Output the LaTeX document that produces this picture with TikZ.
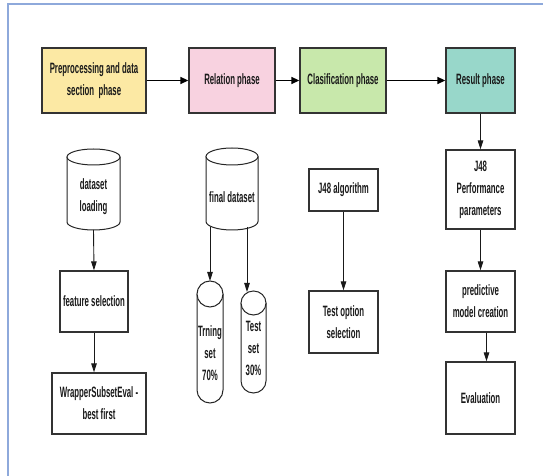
\documentclass[tikz,border=0pt]{standalone}
\usepackage{fontspec}
\newfontfamily\labfont{Liberation Sans}[FakeStretch=0.52]
\usetikzlibrary{arrows.meta}
\definecolor{frameblue}{HTML}{8EA9DB}
\definecolor{cyellow}{HTML}{FCE9A4}
\definecolor{cpink}{HTML}{F8D2E0}
\definecolor{cgreen}{HTML}{C8E8AB}
\definecolor{cteal}{HTML}{98D7CA}
\newcommand\drawcyl[6]{%
  \draw[cylline] ({#2-#5},{#3-#6}) -- ({#2-#5},{#4+#6})
    arc[start angle=180,end angle=360,x radius=#5,y radius=#6] -- ({#2+#5},{#3-#6});
  \draw[cylline] (#2,{#3-#6}) ellipse[x radius=#5, y radius=#6];
}
\begin{document}
\begin{tikzpicture}[x=1pt,y=1pt,
  lab/.style={font={\labfont\bfseries\fontsize{15}{22}\selectfont}, align=center, text=black!90},
  box/.style={lab, draw=black!80, line width=1.3pt, inner sep=0pt},
  cylline/.style={draw=black!85, line width=1pt, fill=white},
  arr/.style={-{Triangle[length=9pt,width=5.5pt]}, line width=0.9pt, black!90},
  harr/.style={-{Triangle[length=8pt,width=7pt]}, line width=1.5pt, black}]
\useasboundingbox (0,0) rectangle (543,476);
\fill[white] (0,0) rectangle (543,476);
% frame (top and left edges visible)
\draw[frameblue, line width=2pt] (8,-5) -- (8,472) -- (544,472);
% top row phases
\node[box, fill=cyellow, minimum width=104pt, minimum height=65pt] (pre) at (94,395.5) {Preprocessing and data\\section~~phase};
\node[box, fill=cpink, minimum width=86pt, minimum height=65pt] (rel) at (232,395.5) {Relation phase};
\node[box, fill=cgreen, minimum width=86pt, minimum height=65pt] (cls) at (343,395.5) {Clasification phase};
\node[box, fill=cteal, minimum width=69pt, minimum height=65pt] (res) at (480.5,395.5) {Result phase};
\draw[harr] (pre) -- (rel);
\draw[harr] (rel) -- (cls);
\draw[harr] (cls) -- (res);
% column 1
\drawcyl{dl}{93.5}{327}{246}{26.5}{8}
\node[lab] (dl) at (93.5,279) {dataset\\loading};
\coordinate (dlb) at (93.5,246);
\node[box, minimum width=68pt, minimum height=61pt] (fs) at (94,174.5) {feature selection};
\node[box, minimum width=94pt, minimum height=61pt] (ws) at (99,72.5) {WrapperSubsetEval -\\best first};
\draw[arr] (dlb) -- (fs.north);
\draw[arr] (fs.south) -- (fs.south |- ws.north);
% column 2
\drawcyl{fd}{232}{328}{246}{26}{8.5}
\node[lab] (fd) at (232,279) {final dataset};
\coordinate (fdb1) at (210,249);
\coordinate (fdb2) at (247,249);
\drawcyl{tr}{210}{195}{73}{13}{13}
\node[lab] (tr) at (210,123) {Trning\\set\\70\%};
\coordinate (trt) at (210,195);
\drawcyl{ts}{253.5}{185}{83}{12.5}{12}
\node[lab] (ts) at (253.5,128) {Test\\set\\30\%};
\coordinate (tst) at (247,184);
\draw[arr] (fdb1) -- (trt);
\draw[arr] (fdb2) -- (tst);
% column 3
\node[box, minimum width=69pt, minimum height=42pt] (j48) at (343.5,286) {J48 algorithm};
\node[box, minimum width=69pt, minimum height=62pt] (to) at (343.5,154) {Test option\\selection};
\draw[arr] (j48) -- (to);
% column 4
\node[box, minimum width=69pt, minimum height=79pt] (perf) at (480.5,286.5) {J48\\Performance\\parameters};
\node[box, minimum width=69pt, minimum height=61pt] (pred) at (480.5,174.5) {predictive\\model creation};
\node[box, minimum width=69pt, minimum height=72pt] (ev) at (480.5,78) {Evaluation};
\draw[arr] (res) -- (perf);
\draw[arr] (perf) -- (pred);
\draw[arr] ([xshift=6pt]pred.south) -- ([xshift=6pt]pred.south |- ev.north);
\end{tikzpicture}
\end{document}
